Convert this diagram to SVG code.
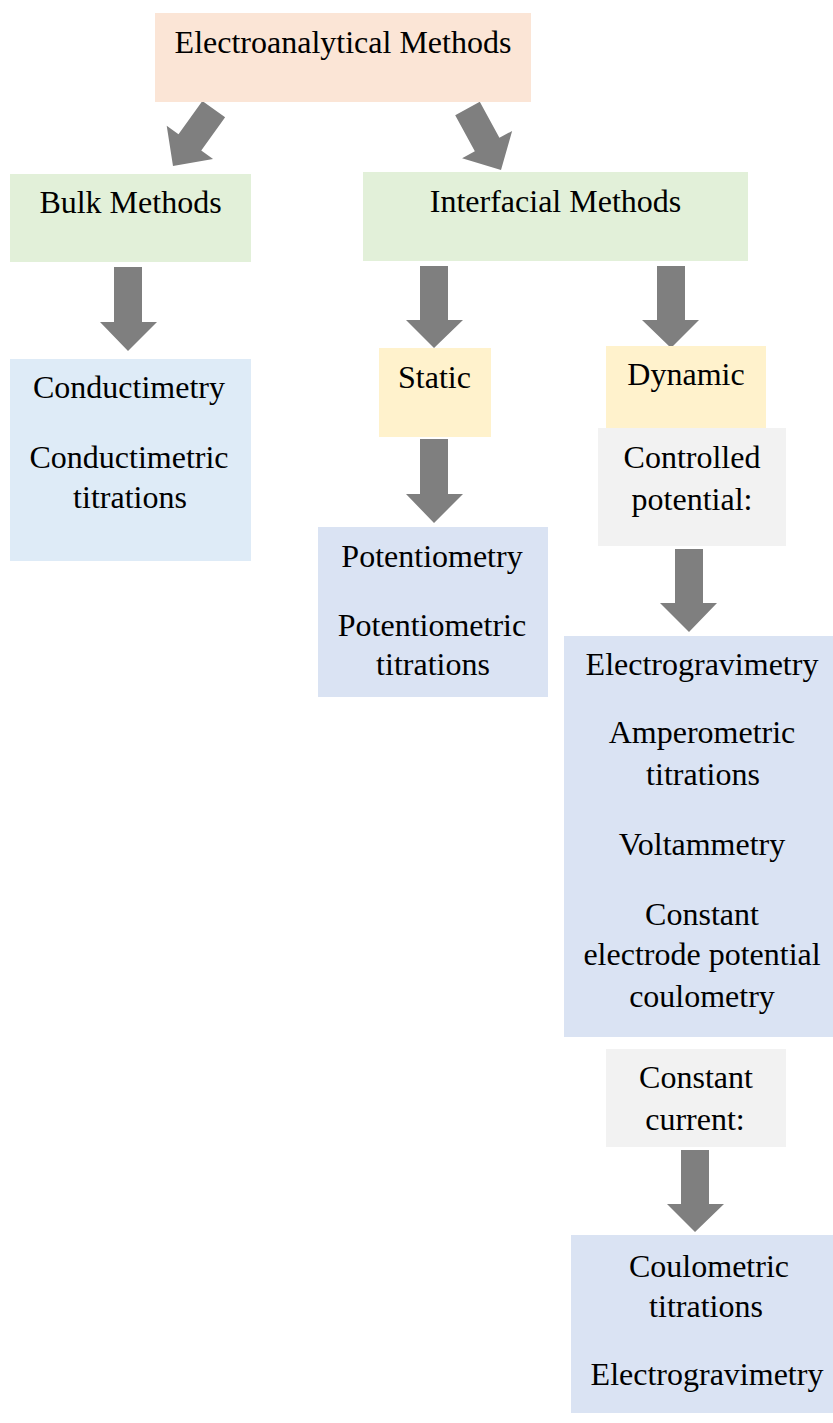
<svg xmlns="http://www.w3.org/2000/svg" width="833" height="1423" viewBox="0 0 833 1423">
<style>
text{font-family:"Liberation Serif","Times New Roman",serif;font-size:32px;fill:#000;text-anchor:middle}
.arrow{fill:#7f7f7f}
.peach{fill:#FBE5D6}
.green{fill:#E2F0D9}
.yellow{fill:#FFF2CC}
.gray{fill:#F2F2F2}
.blue{fill:#DAE3F3}
.blue2{fill:#DEEBF7}
</style>
<rect width="833" height="1423" fill="#fff"/>
<g id="connectors">
<polygon class="arrow" transform="translate(173,166) rotate(35.6)" points="0,0 -28.5,-29 -14,-29 -14,-70 14,-70 14,-29 28.5,-29"/>
<polygon class="arrow" transform="translate(501,170) rotate(-28.6)" points="0,0 -28.5,-29 -14,-29 -14,-70 14,-70 14,-29 28.5,-29"/>
<polygon class="arrow" points="128,351 100,322 114,322 114,267 142,267 142,322 157,322"/>
<polygon class="arrow" points="434,348 406,320 420,320 420,266 448,266 448,320 463,320"/>
<polygon class="arrow" points="671,348 642,320 657,320 657,266 685,266 685,320 699,320"/>
<polygon class="arrow" points="434,523 406,494 420,494 420,439 448,439 448,494 463,494"/>
<polygon class="arrow" points="689,632 660,603 675,603 675,549 703,549 703,603 717,603"/>
<polygon class="arrow" points="695,1232 667,1204 681,1204 681,1150 709,1150 709,1204 724,1204"/>
</g>
<g id="electroanalytical">
<rect class="peach" x="155" y="13" width="376" height="89"/>
<text x="343" y="53">Electroanalytical Methods</text>
</g>
<g id="bulk">
<rect class="green" x="10" y="174" width="241" height="88"/>
<text x="130.5" y="213">Bulk Methods</text>
</g>
<g id="interfacial">
<rect class="green" x="363" y="172" width="385" height="89"/>
<text x="555.5" y="212">Interfacial Methods</text>
</g>
<g id="conductimetry">
<rect class="blue2" x="10" y="359" width="241" height="202"/>
<text x="129" y="398">Conductimetry</text>
<text x="129" y="468">Conductimetric</text>
<text x="130" y="508">titrations</text>
</g>
<g id="static">
<rect class="yellow" x="379" y="348" width="112" height="89"/>
<text x="434.5" y="388">Static</text>
</g>
<g id="potentiometry">
<rect class="blue" x="318" y="527" width="230" height="170"/>
<text x="432" y="567">Potentiometry</text>
<text x="432" y="636">Potentiometric</text>
<text x="433" y="675">titrations</text>
</g>
<g id="dynamic">
<rect class="yellow" x="606" y="346" width="160" height="82"/>
<text x="686" y="385">Dynamic</text>
</g>
<g id="controlled">
<rect class="gray" x="598" y="428" width="188" height="118"/>
<text x="692" y="468">Controlled</text>
<text x="692" y="510">potential:</text>
</g>
<g id="controlled-methods">
<rect class="blue" x="564" y="636" width="269" height="401"/>
<text x="702" y="675">Electrogravimetry</text>
<text x="702" y="743">Amperometric</text>
<text x="703" y="785">titrations</text>
<text x="702" y="855">Voltammetry</text>
<text x="702" y="925">Constant</text>
<text x="702" y="965">electrode potential</text>
<text x="702" y="1007">coulometry</text>
</g>
<g id="constant-current">
<rect class="gray" x="606" y="1049" width="180" height="98"/>
<text x="696" y="1088">Constant</text>
<text x="695" y="1130">current:</text>
</g>
<g id="current-methods">
<rect class="blue" x="571" y="1235" width="262" height="178"/>
<text x="709" y="1277">Coulometric</text>
<text x="706" y="1317">titrations</text>
<text x="707" y="1385">Electrogravimetry</text>
</g>
</svg>
